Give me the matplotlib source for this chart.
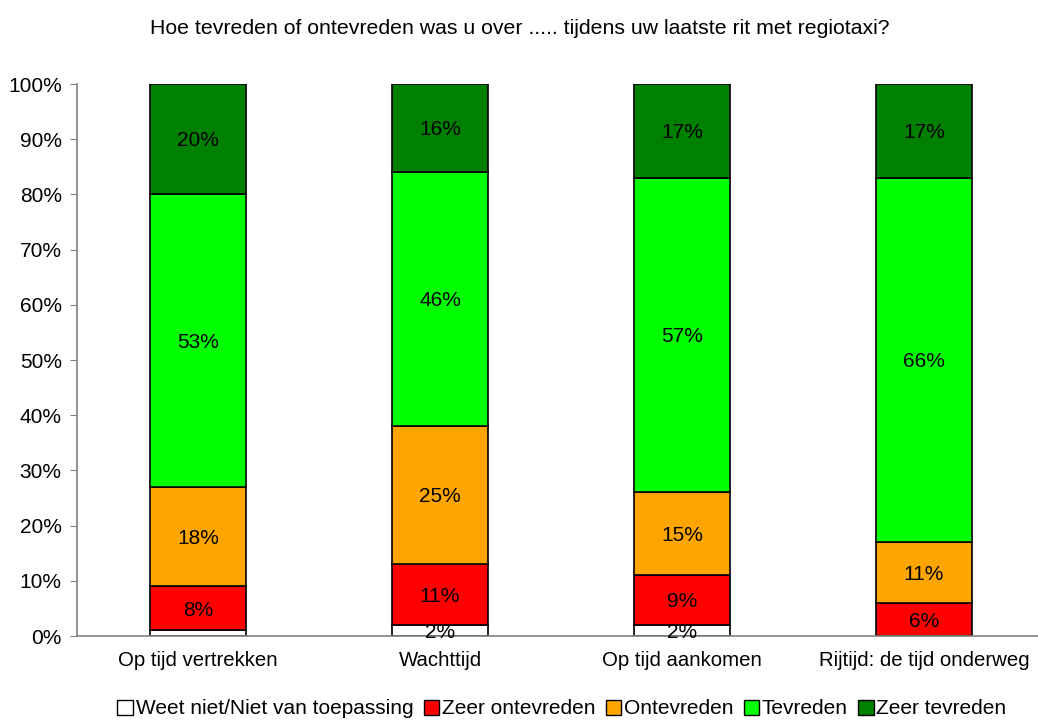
import matplotlib
matplotlib.use("Agg")
import matplotlib.pyplot as plt
import numpy as np
from matplotlib.patches import Patch

plt.rcParams["font.family"] = ["Liberation Sans", "DejaVu Sans"]

categories = ["Op tijd vertrekken", "Wachttijd", "Op tijd aankomen", "Rijtijd: de tijd onderweg"]
series_names = ["Weet niet/Niet van toepassing", "Zeer ontevreden", "Ontevreden", "Tevreden", "Zeer tevreden"]
weet_niet = [1, 2, 2, 0]
zeer_ontevreden = [8, 11, 9, 6]
ontevreden = [18, 25, 15, 11]
tevreden = [53, 46, 57, 66]
zeer_tevreden = [20, 16, 17, 17]
colors = ["#FFFFFF", "#FF0000", "#FFA500", "#00FF00", "#008000"]

title = "Hoe tevreden of ontevreden was u over ..... tijdens uw laatste rit met regiotaxi?"

fig = plt.figure(figsize=(10.38, 7.22), dpi=100)
ax = fig.add_axes([77 / 1038, 86 / 722, 961 / 1038, 552 / 722])

x = np.arange(len(categories))
bottom = np.zeros(len(categories))
series = [weet_niet, zeer_ontevreden, ontevreden, tevreden, zeer_tevreden]
for name, vals, col in zip(series_names, series, colors):
    vals = np.array(vals) / 100.0
    ax.bar(x, vals, width=0.4, bottom=bottom, color=col, edgecolor="black", linewidth=1.2)
    for xi, v, b in zip(x, vals, bottom):
        # kleine segmenten (<2%) krijgen geen label
        if v >= 0.02:
            ax.text(xi, b + v / 2 - 0.003, f"{round(v * 100):d}%", ha="center", va="center", fontsize=15)
    bottom += vals

ax.set_xlim(-0.5, 3.471)
ax.set_ylim(0, 1)
ax.set_yticks(np.arange(0, 1.01, 0.1))
ax.set_yticklabels([f"{int(round(t * 100))}%" for t in np.arange(0, 1.01, 0.1)], fontsize=15)
ax.set_xticks(x)
ax.set_xticklabels(categories, fontsize=14.7)
ax.tick_params(axis="x", length=0, pad=11)
ax.tick_params(axis="y", length=5, color="#808080", pad=6)
for s in ["top", "right"]:
    ax.spines[s].set_visible(False)
ax.spines["left"].set_color("#808080")
ax.spines["bottom"].set_color("#808080")
ax.spines["left"].set_linewidth(1.2)
ax.spines["bottom"].set_linewidth(1.2)

fig.text(520 / 1038, 1 - 29 / 722, title, ha="center", va="center", fontsize=15.3)

handles = [Patch(facecolor=c, edgecolor="black", linewidth=1) for c in colors]
fig.legend(handles, series_names, loc="center", bbox_to_anchor=(562 / 1038, 1 - 709 / 722),
           ncol=5, frameon=False, fontsize=15, handlelength=0.75, handleheight=0.75,
           handletextpad=0.12, columnspacing=0.5, borderpad=0)

fig.savefig("out.png", dpi=100)
